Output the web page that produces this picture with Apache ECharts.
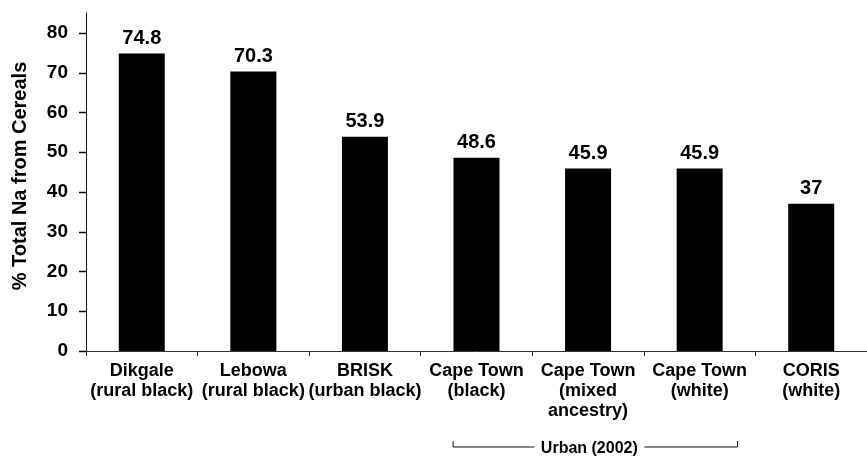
<!DOCTYPE html>
<html>
<head>
<meta charset="utf-8">
<script src="https://cdn.jsdelivr.net/npm/echarts@6/dist/echarts.min.js"></script>
<style>html,body{margin:0;padding:0;background:#fff}#chart{width:867px;height:457px}</style>
</head>
<body>
<div id="chart"></div>
<script>
var categories = ['Dikgale\n(rural black)', 'Lebowa\n(rural black)', 'BRISK\n(urban black)', 'Cape Town\n(black)', 'Cape Town\n(mixed\nancestry)', 'Cape Town\n(white)', 'CORIS\n(white)'];
var values = [74.8, 70.3, 53.9, 48.6, 45.9, 45.9, 37];
var yTicks = [0, 10, 20, 30, 40, 50, 60, 70, 80];
var yTitle = '% Total Na from Cereals';
var groupLabel = 'Urban (2002)';
var groupFrom = 3, groupTo = 5;

var FONT = '"Liberation Sans", Arial, sans-serif';
var chart = echarts.init(document.getElementById('chart'));
chart.setOption({
  animation: false,
  backgroundColor: '#fff',
  textStyle: { fontFamily: FONT, color: '#000' },
  grid: { left: 86, right: -8, top: 13, bottom: 106, containLabel: false },
  xAxis: {
    type: 'category',
    data: categories,
    axisLine: { lineStyle: { color: '#333', width: 1 } },
    axisTick: { show: true, length: 5, inside: false, lineStyle: { color: '#333' } },
    axisLabel: { interval: 0, margin: 10, fontSize: 18, fontWeight: 'bold', lineHeight: 20, color: '#000', fontFamily: FONT }
  },
  yAxis: {
    type: 'value',
    min: 0, max: 85, interval: 10,
    name: yTitle,
    nameLocation: 'middle',
    nameGap: 56,
    nameRotate: 90,
    nameTextStyle: { fontSize: 20, fontWeight: 'bold', color: '#000', fontFamily: FONT, padding: [0, 0, 0, 12] },
    splitLine: { show: false },
    axisLine: { show: true, lineStyle: { color: '#111', width: 1 } },
    axisTick: { show: false },
    axisLabel: { margin: 18, fontSize: 19, fontWeight: 'bold', color: '#000', fontFamily: FONT, showMaxLabel: false,
      formatter: function (v) { return yTicks.indexOf(v) >= 0 ? String(v) : ''; } }
  },
  series: [{
    type: 'bar',
    data: values,
    barWidth: 46,
    itemStyle: { color: '#000' },
    label: { show: true, position: 'top', distance: 5, fontSize: 20, fontWeight: 'bold', color: '#000', fontFamily: FONT }
  }]
});

function drawExtras() {
  var a = chart.convertToPixel({ xAxisIndex: 0 }, groupFrom);
  var b = chart.convertToPixel({ xAxisIndex: 0 }, groupTo);
  var b1 = chart.convertToPixel({ xAxisIndex: 0 }, groupFrom + 1);
  var band = b1 - a;
  var y0 = chart.convertToPixel({ yAxisIndex: 0 }, 0);
  var x0 = chart.convertToPixel({ xAxisIndex: 0 }, 0) - band / 2;
  var x1 = a - band * 0.21, x2 = b + band * 0.34;
  var yL = y0 + 96;
  var mid = (x1 + x2) / 2 - 6;
  var halfText = 55;
  var g = [
    { type: 'polyline', shape: { points: [[x1, yL - 6], [x1, yL], [mid - halfText, yL]] }, style: { stroke: '#111', lineWidth: 1, fill: null } },
    { type: 'polyline', shape: { points: [[mid + halfText, yL], [x2, yL], [x2, yL - 6]] }, style: { stroke: '#111', lineWidth: 1, fill: null } },
    { type: 'text', x: mid, y: yL + 2, style: { text: groupLabel, font: 'bold 16px ' + FONT, fill: '#000', align: 'center', verticalAlign: 'middle' } }
  ];
  yTicks.forEach(function (v) {
    var py = Math.round(chart.convertToPixel({ yAxisIndex: 0 }, v)) + 0.5;
    g.push({ type: 'line', z: 100, shape: { x1: 79, y1: py, x2: 86, y2: py }, style: { stroke: '#000', lineWidth: 1.5 } });
  });
  chart.setOption({ graphic: g });
}
drawExtras();
</script>
</body>
</html>
